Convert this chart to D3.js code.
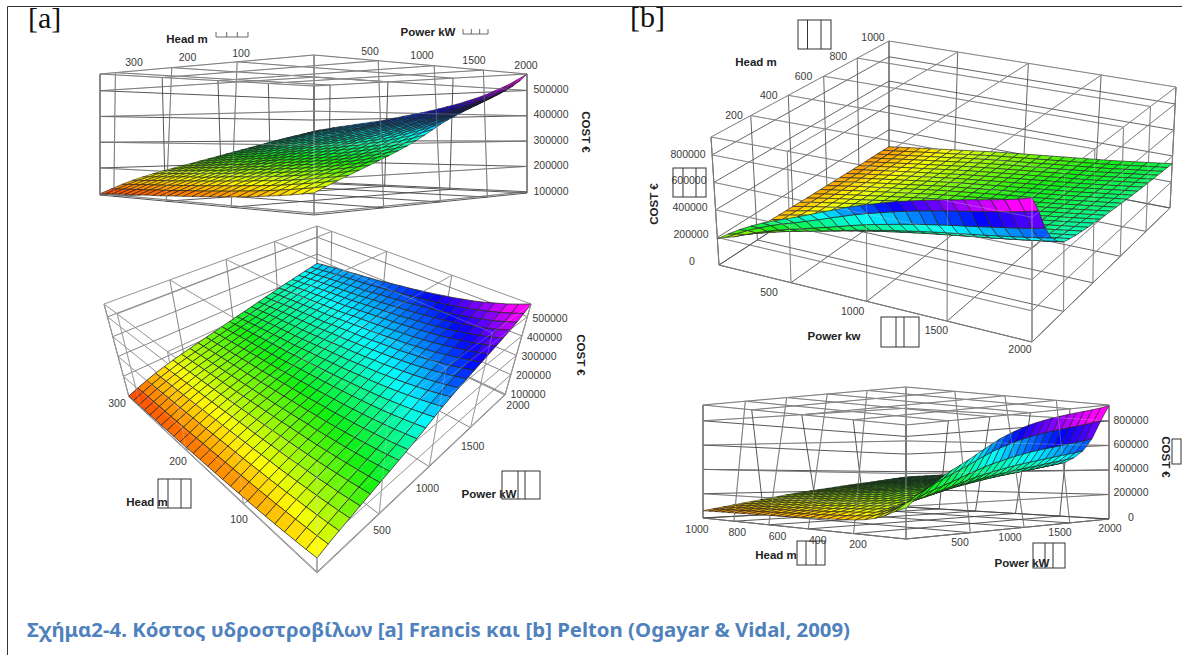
<!DOCTYPE html>
<html lang="el">
<head>
<meta charset="utf-8">
<style>
  html, body { margin: 0; padding: 0; background: #fff; }
  svg { display: block; }
  .tick { font-family: "Liberation Sans", Arial, sans-serif; font-size: 10.5px; fill: #3a3a3a; }
  .title { font-family: "Liberation Sans", Arial, sans-serif; font-size: 11.5px; font-weight: bold; fill: #222; }
  .plot { filter: blur(0.35px); }
</style>
</head>
<body>
<svg width="1182" height="655"></svg>
<script src="https://cdn.jsdelivr.net/npm/d3@7"></script>
<script>
// surface nodes
var powerNodes = [0,80,160,240,320,400,480,560,640,720,800,880,960,1040,1120,1200,1280,1360,1440,1520,1600,1680,1760,1840,1920,2000];
var francisHead = [0,13,26,40,53,66,79,92,106,119,132,145,158,172,185,198,211,224,238,251,264,277,290,304,317,330];
var peltonHead = [0,40,80,120,160,200,240,280,320,360,400,440,480,520,560,600,640,680,720,760,800,840,880,920,960,1000];

// cost in thousand euro, one row per head node, one column per power node
var francisCost = [
[160,176,191,205,219,233,247,261,276,291,308,326,345,364,381,396,411,425,439,453,467,482,498,516,538,565],
[154,170,185,199,213,227,240,254,268,282,299,316,334,352,368,382,397,410,424,437,451,465,480,497,518,543],
[149,165,180,194,207,221,234,247,261,275,290,307,324,341,356,370,384,397,410,423,436,450,464,480,500,523],
[144,160,175,189,203,216,229,241,255,268,283,298,315,331,346,359,373,385,398,411,423,436,450,465,484,506],
[140,156,171,185,198,211,224,236,249,262,276,291,307,323,337,350,363,375,387,400,412,425,438,452,470,490],
[136,152,167,181,195,207,220,232,244,257,271,285,300,315,329,342,354,366,378,390,402,414,427,441,458,477],
[133,149,164,178,192,204,216,228,240,253,266,280,295,309,323,335,347,359,371,382,394,406,418,432,448,466],
[130,146,161,175,188,201,213,224,236,248,261,275,289,303,316,328,340,351,363,374,386,397,409,422,437,455],
[128,144,159,173,186,198,210,222,233,245,258,271,285,298,311,323,334,346,357,368,380,391,402,415,429,446],
[125,141,157,171,184,196,208,219,230,242,254,267,280,293,306,317,329,340,351,362,373,384,395,408,421,437],
[123,139,154,168,181,193,205,216,227,238,250,263,276,288,300,312,323,334,345,356,367,377,388,400,413,429],
[121,137,153,167,179,191,203,214,225,236,248,260,272,285,296,308,319,329,340,351,362,372,383,394,407,422],
[119,135,151,165,178,189,201,211,222,233,245,257,269,281,293,304,314,325,336,346,357,367,378,389,401,415],
[117,133,149,163,176,188,199,209,220,231,242,254,265,277,289,299,310,321,331,342,352,362,372,383,395,409],
[116,132,147,161,174,186,197,207,218,228,239,251,262,274,285,295,306,316,327,337,347,357,367,378,389,402],
[114,130,146,160,172,184,195,205,215,226,236,247,259,270,281,291,302,312,322,332,342,352,362,372,383,396],
[112,128,144,158,170,182,193,203,213,223,234,244,255,266,277,287,297,307,317,327,337,347,356,366,377,389],
[111,127,143,157,169,181,191,201,211,221,232,242,253,264,274,284,295,304,314,324,334,343,353,363,373,385],
[110,126,141,155,168,179,190,200,210,220,230,240,251,262,272,282,292,302,311,321,331,340,349,359,369,380],
[108,124,140,154,167,178,189,198,208,218,228,238,249,259,269,279,289,299,308,318,328,337,346,355,365,376],
[107,123,139,153,165,177,187,197,206,216,226,236,246,257,267,276,286,296,305,315,324,333,342,351,361,371],
[106,122,138,152,164,175,186,195,205,214,224,234,244,254,264,274,283,293,302,312,321,330,339,348,357,367],
[105,121,137,151,163,174,184,194,203,213,222,232,242,252,261,271,280,290,299,309,318,327,335,344,353,363],
[103,119,135,149,161,172,182,192,201,210,220,229,239,248,257,267,276,285,295,304,313,321,330,338,347,356],
[102,118,134,148,160,171,181,190,199,209,218,227,236,246,255,264,273,282,292,301,310,318,326,335,343,352],
[100,116,132,146,158,169,179,188,197,206,215,224,233,242,251,260,269,278,287,296,305,313,321,329,337,345]
];
var peltonCost = [
[190,245,295,340,380,415,447,480,515,550,585,620,650,678,705,730,752,773,792,810,828,845,862,880,900,925],
[164,210,253,291,326,356,384,413,443,474,504,534,560,584,608,630,650,668,686,702,718,734,750,767,786,808],
[132,167,200,230,258,282,305,329,353,378,403,427,448,467,487,505,522,538,553,567,581,596,611,626,643,662],
[109,138,164,189,211,232,252,272,292,313,334,353,371,388,404,420,435,449,462,475,488,502,516,530,545,562],
[96,120,143,164,184,203,220,238,257,275,293,310,326,341,356,370,383,396,409,421,433,447,460,474,488,504],
[88,109,129,148,166,183,199,216,233,250,267,282,296,310,324,337,350,362,374,386,397,410,423,437,450,465],
[85,105,124,142,160,176,192,208,224,241,257,272,286,299,312,325,337,349,361,373,384,397,410,423,437,451],
[82,101,120,137,154,170,186,201,217,233,249,263,277,290,302,315,327,339,350,362,373,386,399,412,425,439],
[80,99,117,134,150,166,181,196,212,227,243,257,270,283,295,307,319,331,342,354,365,378,391,403,417,431],
[78,96,114,130,146,161,176,191,206,221,237,250,263,276,288,300,312,323,334,346,357,369,382,395,408,422],
[77,94,111,127,143,158,172,187,202,217,232,245,258,270,282,294,306,317,328,339,350,363,375,388,401,415],
[75,92,108,124,139,154,168,183,197,212,227,239,252,264,276,288,299,310,321,332,343,356,368,381,394,407],
[73,90,106,121,136,150,164,179,193,207,222,234,246,258,270,281,293,304,315,326,336,349,361,374,387,400],
[72,88,103,118,133,147,161,175,189,203,217,230,241,253,265,276,287,298,309,320,330,343,355,368,381,394],
[71,86,101,116,130,144,158,172,185,199,213,225,237,248,260,271,282,293,304,314,325,337,350,362,375,388],
[69,84,99,114,128,141,155,168,182,195,209,221,232,244,255,266,277,288,298,309,319,332,344,357,369,382],
[68,83,97,111,125,139,152,165,179,192,206,217,228,239,251,262,272,283,294,304,315,327,339,352,364,377],
[67,81,96,109,123,136,149,162,176,189,202,214,225,236,247,258,268,279,289,300,310,322,335,347,359,372],
[66,80,94,107,121,134,147,160,173,186,199,210,221,232,243,253,264,275,285,295,306,318,330,342,355,367],
[65,79,92,106,119,132,145,157,170,183,196,207,218,229,239,250,260,271,281,292,302,314,326,339,351,363],
[64,78,91,104,117,130,142,155,168,181,193,204,215,225,236,246,257,267,278,288,298,310,322,335,347,359],
[63,76,89,102,115,128,140,153,165,178,190,201,212,222,233,243,253,264,274,284,294,306,318,331,343,355],
[63,75,88,101,113,126,138,151,163,176,188,199,209,220,230,240,250,260,271,281,291,303,315,327,339,352],
[62,74,87,99,111,124,136,148,161,173,185,196,206,217,226,236,247,257,267,277,287,299,311,323,335,348],
[61,73,85,98,110,122,134,146,158,170,183,193,203,213,223,233,244,254,263,273,284,296,308,320,332,344],
[60,72,84,96,108,120,132,144,156,168,180,190,200,210,220,230,240,250,260,270,280,292,304,316,328,340]
];

// axis ticks
var powerTicks = [500,1000,1500,2000];
var francisHeadTicks = [100,200,300];
var peltonHeadTicks = [200,400,600,800,1000];
var francisCostTicks = [100,200,300,400,500];
var peltonCostTicks = [0,200,400,600,800];

var rainbow = ["#ff2200","#ffff00","#10f010","#00ffff","#0000ff","#ff00ff"];
var francisStops = [95,165,240,330,430,525];
var peltonStops = [0,125,280,500,660,830];

var captionText = "Σχήμα2-4. Κόστος υδροστροβίλων [a] Francis και [b] Pelton (Ogayar & Vidal, 2009)";

// the four views. box corners are named by power (p0/p1) and head (h0/h1), b = base, t = top
var panels = [
  { cost: francisCost, head: francisHead, headTicks: francisHeadTicks, costTicks: francisCostTicks,
    stops: francisStops, zDomain: [95,565], order: [-1,-1], near: [0,0], grid: "#444", mesh: "#1c1c1c", meshW: 0.6,
    p0h0: {b:[314,215], t:[314,55]}, p1h0: {b:[527,193], t:[527,74]}, p1h1: {b:[314,183], t:[314,86]}, p0h1: {b:[100,195], t:[100,74]},
    headLabels: {from:[241,53], to:[134,62], domain:[100,300]},
    powerLabels: {from:[370,51], to:[526,65]},
    costLabels: {from:[551,191], to:[551,89]},
    titles: [{t:"Head m", x:187, y:43}, {t:"Power kW", x:428, y:36}, {t:"COST €", x:582, y:132, r:90}],
    boxes: [] },
  { cost: francisCost, head: francisHead, headTicks: francisHeadTicks, costTicks: francisCostTicks,
    stops: francisStops, zDomain: [95,565], order: [-1,-1], near: [0,0], grid: "#777", mesh: "#2a2a2a", meshW: 0.8,
    p0h0: {b:[317,573], t:[317,464]}, p1h0: {b:[505,395], t:[531,304]}, p1h1: {b:[317,306], t:[317,226]}, p0h1: {b:[129,397], t:[104,304]},
    headLabels: {from:[239,519], to:[117,403], domain:[100,300]},
    powerLabels: {from:[382,530], to:[518,405]},
    costLabels: {from:[528,394], to:[550,318]},
    titles: [{t:"Head m", x:147, y:506}, {t:"Power kW", x:489, y:498}, {t:"COST €", x:577, y:355, r:90}],
    boxes: [[158,191,479,508,168,181], [502,540,471,499,518,525]] },
  { cost: peltonCost, head: peltonHead, headTicks: peltonHeadTicks, costTicks: peltonCostTicks,
    stops: peltonStops, zDomain: [0,930], order: [1,-1], near: [1,0], grid: "#555", mesh: "#2a2a2a", meshW: 0.7,
    p0h0: {b:[719,265], t:[711,137]}, p1h0: {b:[1032,342], t:[1032,197]}, p1h1: {b:[1170,208], t:[1176,87]}, p0h1: {b:[889,154], t:[889,41]},
    headLabels: {from:[734,115], to:[873,37], domain:[200,1000]},
    powerLabels: {from:[769,292], to:[1020,349]},
    costLabels: {from:[692,261], to:[688,154]},
    titles: [{t:"Head m", x:756, y:66}, {t:"Power kw", x:834, y:340}, {t:"COST €", x:658, y:204, r:-90}],
    boxes: [[798,831,20,49,807.5,821], [673,706,168,197,683,696], [881,919,317,347,896,904]] },
  { cost: peltonCost, head: peltonHead, headTicks: peltonHeadTicks, costTicks: peltonCostTicks,
    stops: peltonStops, zDomain: [0,930], order: [-1,-1], near: [0,0], grid: "#444", mesh: "#1c1c1c", meshW: 0.6,
    p0h0: {b:[906,539], t:[906,387]}, p1h0: {b:[1109,519], t:[1109,405]}, p1h1: {b:[906,507], t:[906,425]}, p0h1: {b:[703,518], t:[703,405]},
    headLabels: {from:[858,544], to:[697,529], domain:[200,1000]},
    powerLabels: {from:[960,542], to:[1110,528]},
    costLabels: {from:[1131,517], to:[1131,420]},
    titles: [{t:"Head m", x:776, y:559}, {t:"Power kW", x:1022, y:567}, {t:"COST €", x:1162, y:457, r:90}],
    boxes: [[797,825,541,565,806,816], [1033,1065,543,568,1045,1053], [1172,1181,439,464]] }
];

var svg = d3.select("svg");

// page frame
svg.append("path").attr("d", "M7.5,655V6.5H1182").attr("fill", "none").attr("stroke", "#333").attr("stroke-width", 1);

// unit square -> quad
function homography(q) {
  var x0=q[0][0], y0=q[0][1], x1=q[1][0], y1=q[1][1], x2=q[2][0], y2=q[2][1], x3=q[3][0], y3=q[3][1];
  var dx1=x1-x2, dx2=x3-x2, sx=x0-x1+x2-x3, dy1=y1-y2, dy2=y3-y2, sy=y0-y1+y2-y3;
  var den=dx1*dy2-dx2*dy1;
  var g=(sx*dy2-dx2*sy)/den, h=(dx1*sy-sx*dy1)/den;
  var a=x1-x0+g*x1, b=x3-x0+h*x3, d=y1-y0+g*y1, e=y3-y0+h*y3;
  return function(u, v) {
    var w=g*u+h*v+1;
    return [(a*u+b*v+x0)/w, (d*u+e*v+y0)/w];
  };
}

function drawPanel(panel) {
  var pScale = d3.scaleLinear().domain([0, d3.max(powerNodes)]).range([0,1]);
  var hScale = d3.scaleLinear().domain([0, d3.max(panel.head)]).range([0,1]);
  var zScale = d3.scaleLinear().domain(panel.zDomain).range([0,1]);
  var color = d3.scaleLinear().domain(panel.stops).range(rainbow).clamp(true);

  var baseQ = homography([panel.p0h0.b, panel.p1h0.b, panel.p1h1.b, panel.p0h1.b]);
  var topQ = homography([panel.p0h0.t, panel.p1h0.t, panel.p1h1.t, panel.p0h1.t]);

  function project(p, h, z) {
    var u=pScale(p), v=hScale(h), t=zScale(z);
    var a=baseQ(u,v), b=topQ(u,v);
    return [a[0]+(b[0]-a[0])*t, a[1]+(b[1]-a[1])*t];
  }

  var pMax=d3.max(powerNodes), hMax=d3.max(panel.head), z0=panel.zDomain[0], z1=panel.zDomain[1];
  var pLines = [0].concat(powerTicks.filter(function(d){return d<pMax;}), [pMax]);
  var hLines = [0].concat(panel.headTicks.filter(function(d){return d<hMax;}), [hMax]);
  var nearP = panel.near[0] ? pMax : 0, nearH = panel.near[1] ? hMax : 0;

  // cage segments, front = on the top plane or on a wall facing the viewer
  var segs = [];
  function seg(a, b, front) { segs.push({a:a, b:b, front:front}); }
  [z0,z1].forEach(function(z) {
    pLines.forEach(function(p){ seg([p,0,z],[p,hMax,z], z==z1); });
    hLines.forEach(function(h){ seg([0,h,z],[pMax,h,z], z==z1); });
  });
  [0,hMax].forEach(function(h) {
    pLines.forEach(function(p){ seg([p,h,z0],[p,h,z1], h==nearH); });
    panel.costTicks.forEach(function(z){ seg([0,h,z],[pMax,h,z], h==nearH); });
  });
  [0,pMax].forEach(function(p) {
    hLines.forEach(function(h){ seg([p,h,z0],[p,h,z1], p==nearP); });
    panel.costTicks.forEach(function(z){ seg([p,0,z],[p,hMax,z], p==nearP); });
  });

  var lineGen = d3.line();
  var g = svg.append("g").attr("class", "plot");

  g.append("g").selectAll("path").data(segs).enter().append("path")
    .attr("d", function(d){ return lineGen([project.apply(null,d.a), project.apply(null,d.b)]); })
    .attr("fill", "none").attr("stroke", panel.grid).attr("stroke-width", 0.9);

  // cells, far ones first
  var cells = [];
  var iOrder = d3.range(powerNodes.length-1), jOrder = d3.range(panel.head.length-1);
  if (panel.order[0] < 0) iOrder.reverse();
  if (panel.order[1] < 0) jOrder.reverse();
  iOrder.forEach(function(i) {
    jOrder.forEach(function(j) {
      var c = panel.cost;
      cells.push({
        pts: [
          project(powerNodes[i], panel.head[j], c[j][i]),
          project(powerNodes[i+1], panel.head[j], c[j][i+1]),
          project(powerNodes[i+1], panel.head[j+1], c[j+1][i+1]),
          project(powerNodes[i], panel.head[j+1], c[j+1][i])
        ],
        z: (c[j][i]+c[j][i+1]+c[j+1][i+1]+c[j+1][i])/4
      });
    });
  });
  g.append("g").selectAll("path").data(cells).enter().append("path")
    .attr("d", function(d){ return lineGen(d.pts)+"Z"; })
    .attr("fill", function(d){ return color(d.z); })
    .attr("stroke", panel.mesh).attr("stroke-width", panel.meshW).attr("stroke-linejoin", "round");

  // faint cage over the surface
  g.append("g").selectAll("path").data(segs.filter(function(d){return d.front;})).enter().append("path")
    .attr("d", function(d){ return lineGen([project.apply(null,d.a), project.apply(null,d.b)]); })
    .attr("fill", "none").attr("stroke", "#ddd").attr("stroke-width", 0.8).attr("stroke-opacity", 0.35);

  // tick labels
  function labels(ticks, cfg, domain) {
    var sx = d3.scaleLinear().domain(domain).range([cfg.from[0], cfg.to[0]]);
    var sy = d3.scaleLinear().domain(domain).range([cfg.from[1], cfg.to[1]]);
    svg.append("g").selectAll("text").data(ticks).enter().append("text")
      .attr("class", "tick").attr("text-anchor", "middle").attr("dy", "0.35em")
      .attr("x", function(d){ return sx(d); }).attr("y", function(d){ return sy(d); })
      .text(function(d){ return d; });
  }
  labels(panel.headTicks, panel.headLabels, panel.headLabels.domain);
  labels(powerTicks, panel.powerLabels, [500,2000]);
  var cost = panel.costTicks.map(function(d){ return d*1000; });
  labels(cost, panel.costLabels, [cost[0], cost[cost.length-1]]);

  panel.titles.forEach(function(d) {
    svg.append("text").attr("class", "title").attr("text-anchor", "middle")
      .attr("transform", "translate(" + d.x + "," + d.y + ")" + (d.r ? " rotate(" + d.r + ")" : ""))
      .text(d.t);
  });

  // empty equation boxes left in the document
  panel.boxes.forEach(function(b) {
    var box = svg.append("g").attr("fill", "none").attr("stroke", "#333").attr("stroke-width", 1);
    box.append("rect").attr("x", b[0]).attr("y", b[2]).attr("width", b[1]-b[0]).attr("height", b[3]-b[2]);
    b.slice(4).forEach(function(x) {
      box.append("line").attr("x1", x).attr("x2", x).attr("y1", b[2]).attr("y2", b[3]);
    });
  });
}

panels.forEach(drawPanel);

// tiny brackets next to the top titles
[[216,248,32,37],[463,488,29,34]].forEach(function(b) {
  var w = (b[1]-b[0])/3, d = "M"+b[0]+","+b[2]+"V"+b[3]+"H"+b[1]+"V"+b[2];
  d += "M"+(b[0]+w)+","+b[2]+"V"+b[3]+"M"+(b[0]+2*w)+","+b[2]+"V"+b[3];
  svg.append("path").attr("d", d).attr("fill", "none").attr("stroke", "#444").attr("stroke-width", 0.8);
});

svg.append("text").attr("x", 28).attr("y", 28).attr("font-family", "Liberation Serif, serif").attr("font-size", 30).attr("fill", "#111").text("[a]");
svg.append("text").attr("x", 630).attr("y", 27).attr("font-family", "Liberation Serif, serif").attr("font-size", 30).attr("fill", "#111").text("[b]");

svg.append("text").attr("x", 27).attr("y", 637)
  .attr("font-family", "'Noto Sans', 'Open Sans', sans-serif").attr("font-weight", "bold").attr("font-size", 19.5)
  .attr("textLength", 823).attr("lengthAdjust", "spacingAndGlyphs")
  .attr("fill", "#4f81bd").text(captionText);
</script>
</body>
</html>
